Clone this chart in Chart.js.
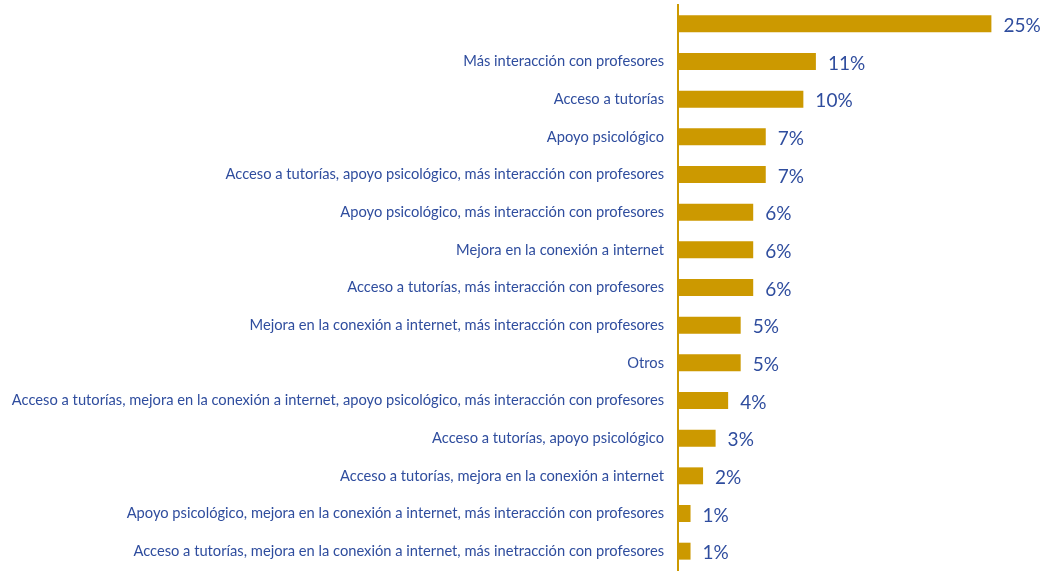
<!DOCTYPE html>
<html>
<head>
<meta charset="utf-8">
<script src="https://cdn.jsdelivr.net/npm/chart.js@4"></script>
<style>
  html, body { margin: 0; padding: 0; background: #ffffff; }
  #wrap { width: 1048px; height: 575px; }
</style>
</head>
<body>
<div id="wrap"><canvas id="mejorasChart"></canvas></div>
<script>
// Categories (top to bottom) and their percentages
const categories = [
    '',
    'Más interacción con profesores',
    'Acceso a tutorías',
    'Apoyo psicológico',
    'Acceso a tutorías, apoyo psicológico, más interacción con profesores',
    'Apoyo psicológico, más interacción con profesores',
    'Mejora en la conexión a internet',
    'Acceso a tutorías, más interacción con profesores',
    'Mejora en la conexión a internet, más interacción con profesores',
    'Otros',
    'Acceso a tutorías, mejora en la conexión a internet, apoyo psicológico, más interacción con profesores',
    'Acceso a tutorías, apoyo psicológico',
    'Acceso a tutorías, mejora en la conexión a internet',
    'Apoyo psicológico, mejora en la conexión a internet, más interacción con profesores',
    'Acceso a tutorías, mejora en la conexión a internet, más inetracción con profesores'
];
const percentages = [25, 11, 10, 7, 7, 6, 6, 6, 5, 5, 4, 3, 2, 1, 1];
const valueLabels = ['25%', '11%', '10%', '7%', '7%', '6%', '6%', '6%', '5%', '5%', '4%', '3%', '2%', '1%', '1%'];

const gold = '#CC9900';
const blue = '#2F4D9E';

// draws the percentage next to each bar
const valueLabelPlugin = {
    id: 'valueLabels',
    afterDatasetsDraw(chart) {
        const ctx = chart.ctx;
        const meta = chart.getDatasetMeta(0);
        ctx.save();
        ctx.fillStyle = blue;
        ctx.font = '19px Lato';
        ctx.textAlign = 'left';
        ctx.textBaseline = 'middle';
        meta.data.forEach(function (bar, i) {
            ctx.fillText(valueLabels[i], bar.x + 12, bar.y + 2);
        });
        ctx.restore();
    }
};

const ctx = document.getElementById('mejorasChart');
new Chart(ctx, {
    type: 'bar',
    data: {
        labels: categories,
        datasets: [{
            data: percentages,
            backgroundColor: gold,
            borderWidth: 0,
            barPercentage: 0.9,
            categoryPercentage: 0.5
        }]
    },
    options: {
        indexAxis: 'y',
        responsive: true,
        maintainAspectRatio: false,
        animation: false,
        layout: { padding: { top: 5, bottom: 5, right: 19, left: 0 } },
        plugins: {
            legend: { display: false },
            tooltip: { enabled: false }
        },
        scales: {
            x: {
                display: false,
                min: 0,
                max: 28
            },
            y: {
                grid: { display: false, drawTicks: false },
                border: { display: true, color: gold, width: 2 },
                ticks: {
                    color: blue,
                    font: { family: 'Lato', size: 14.7 },
                    padding: 14
                },
                afterFit(scale) {
                    scale.width = 678;
                    scale.paddingTop = 0;
                    scale.paddingBottom = 0;
                }
            }
        }
    },
    plugins: [valueLabelPlugin]
});
</script>
</body>
</html>
